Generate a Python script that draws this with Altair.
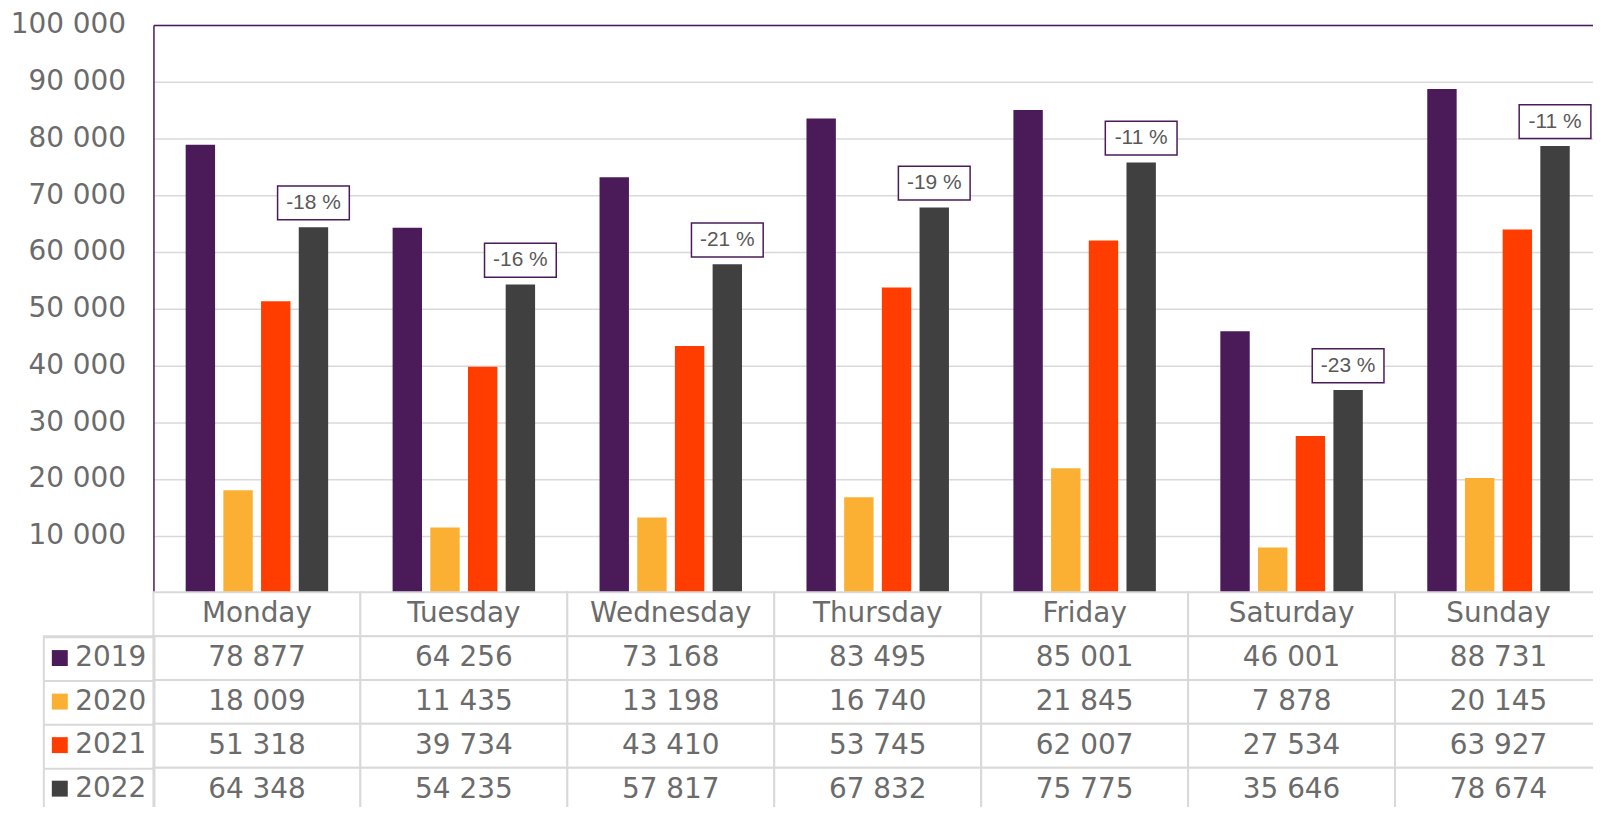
import altair as alt
import pandas as pd

days = ["Monday", "Tuesday", "Wednesday", "Thursday", "Friday", "Saturday", "Sunday"]
years = ["2019", "2020", "2021", "2022"]
v2019 = [78877, 64256, 73168, 83495, 85001, 46001, 88731]
v2020 = [18009, 11435, 13198, 16740, 21845, 7878, 20145]
v2021 = [51318, 39734, 43410, 53745, 62007, 27534, 63927]
v2022 = [64348, 54235, 57817, 67832, 75775, 35646, 78674]
changes = ["-18 %", "-16 %", "-21 %", "-19 %", "-11 %", "-23 %", "-11 %"]
y_ticks = [10000, 20000, 30000, 40000, 50000, 60000, 70000, 80000, 90000, 100000]

colors = ["#4b1b59", "#fbb034", "#ff3d00", "#404040"]
PURPLE = "#4b1b59"
GRID = "#d9d9d9"
TXT = "#6b6b6b"
FONT = "DejaVu Sans, sans-serif"
LFONT = "Liberation Sans, Arial, sans-serif"

series = {"2019": v2019, "2020": v2020, "2021": v2021, "2022": v2022}
bar_rows = []
for y in years:
    for d, v in zip(days, series[y]):
        bar_rows.append({"day": d, "year": y, "value": v})
bars_df = pd.DataFrame(bar_rows)

lab_df = pd.DataFrame({"day": days, "year": ["2022"] * 7, "value": v2022, "change": changes})

row_order = ["header"] + years
tbl_rows = [{"day": d, "row": "header", "text": d} for d in days]
for y in years:
    for d, v in zip(days, series[y]):
        tbl_rows.append({"day": d, "row": y, "text": f"{v:,}".replace(",", " ")})
tbl_df = pd.DataFrame(tbl_rows)

BAR_H = 569.5
ROW_H = 44
X_RANGE = 1454

x_enc = alt.X(
    "day:N", sort=days, title=None,
    scale=alt.Scale(domain=days, range=[0, X_RANGE], paddingInner=0, paddingOuter=0,
                    round=False),
    axis=alt.Axis(orient="top", labels=False, ticks=False, grid=False, domain=True,
                  domainColor=PURPLE, domainWidth=1.5, title=None),
)
xoff = alt.XOffset("year:N", sort=years,
                   scale=alt.Scale(domain=years, paddingInner=0.22, paddingOuter=0.855,
                                   round=False))

y_enc = alt.Y(
    "value:Q", title=None,
    scale=alt.Scale(domain=[0, 100000], range=[BAR_H, 0], nice=False, zero=True),
    axis=alt.Axis(values=y_ticks, orient="left", title=None, ticks=False,
                  labelExpr="replace(format(datum.value, ','), ',', ' ')",
                  labelFontSize=28, labelFont=FONT, labelColor=TXT, labelPadding=28,
                  domain=True, domainColor=PURPLE, domainWidth=1.5,
                  grid=True, gridColor=GRID, gridWidth=1.5),
)

bars = alt.Chart(bars_df).mark_bar().encode(
    x=x_enc,
    xOffset=xoff,
    y=y_enc,
    color=alt.Color("year:N", sort=years, scale=alt.Scale(domain=years, range=colors),
                    legend=alt.Legend(orient="none", legendX=-110, legendY=BAR_H + ROW_H,
                                      direction="vertical", title=None, symbolType="square",
                                      symbolSize=256, symbolStrokeWidth=0, symbolOpacity=1,
                                      symbolOffset=-6,
                                      labelFontSize=28, labelFont=FONT, labelColor=TXT,
                                      labelOffset=1.5, rowPadding=ROW_H - 28.3, padding=8,
                                      strokeColor=GRID)),
)

box_path = "M-1,-0.472L1,-0.472L1,0.472L-1,0.472Z"
boxes = alt.Chart(lab_df).mark_point(
    shape=box_path, size=72 * 72, filled=True, fill="white", stroke=PURPLE,
    strokeWidth=1.5, opacity=1, fillOpacity=1, strokeOpacity=1, yOffset=-24.4,
).encode(x=x_enc, xOffset=xoff, y=y_enc)

labels = alt.Chart(lab_df).mark_text(
    fontSize=21, font=LFONT, color="#595959", yOffset=-24.4, baseline="middle",
).encode(x=x_enc, xOffset=xoff, y=y_enc, text="change:N")

row_enc = alt.Y(
    "row:N", sort=row_order, title=None,
    scale=alt.Scale(domain=row_order, range=[BAR_H, BAR_H + ROW_H * 5],
                    paddingInner=0, paddingOuter=0, round=False),
    axis=alt.Axis(orient="left", title=None, labels=False, domain=False, grid=False,
                  values=years, ticks=True, tickBand="extent", tickSize=110, tickWidth=2,
                  tickColor=GRID),
)
cells = alt.Chart(tbl_df).mark_rect(fill="white", stroke=GRID, strokeWidth=2).encode(
    x=x_enc, y=row_enc,
)
cell_text = alt.Chart(tbl_df).mark_text(fontSize=28, font=FONT, color=TXT,
                                        baseline="middle").encode(
    x=x_enc, y=row_enc, text="text:N",
)

chart = alt.layer(
    alt.layer(bars, boxes, labels),
    alt.layer(cells, cell_text),
).resolve_scale(y="independent").properties(
    width=1445, height=783.5,
    autosize=alt.AutoSizeParams(type="none"),
    padding={"left": 146, "top": 15.5, "right": 0, "bottom": 0},
).configure_view(stroke=None).configure_legend(strokeWidth=2)

chart.save("out.html", embed_options={"renderer": "svg", "actions": False})
